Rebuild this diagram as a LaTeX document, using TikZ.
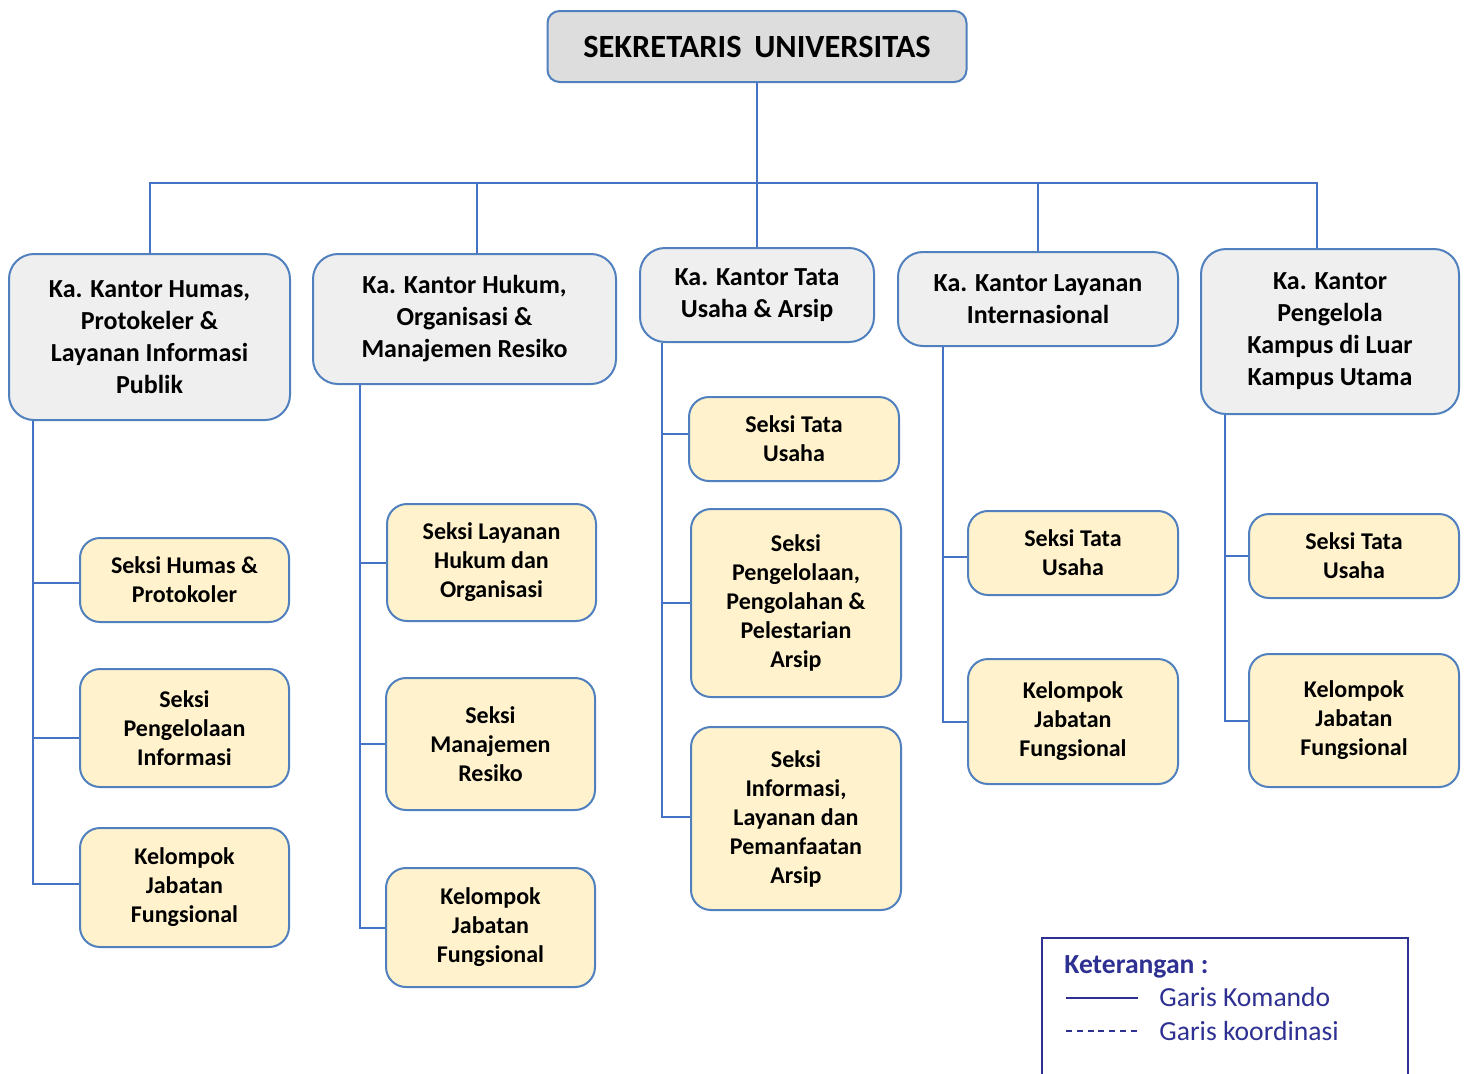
\documentclass[tikz,border=0pt]{standalone}
\usepackage{fontspec}
\setmainfont{Carlito}
\definecolor{garisbiru}{RGB}{68,114,196}
\definecolor{tepibiru}{RGB}{80,128,190}
\definecolor{abuabu}{RGB}{221,221,221}
\definecolor{abumuda}{RGB}{239,239,239}
\definecolor{kuning}{RGB}{255,242,204}
\definecolor{ungu}{RGB}{46,49,146}
\begin{document}
\begin{tikzpicture}[x=0.5pt,y=0.5pt,yscale=-1,
  kotak/.style={draw=tepibiru, line width=1pt, align=center, inner sep=0pt},
  kabox/.style={kotak, fill=abumuda, rounded corners=12.5pt, font=\fontsize{13}{16}\selectfont\bfseries},
  seksibox/.style={kotak, fill=kuning, rounded corners=10pt, minimum width=104.5pt, font=\fontsize{12}{14.5}\selectfont\bfseries},
  garis/.style={draw=garisbiru, line width=1pt}]
\useasboundingbox (0,0) rectangle (1466,1073);

% Sekretaris
\node[kotak, fill=abuabu, rounded corners=6pt, minimum width=209.5pt, minimum height=35.5pt, font=\fontsize{16.2}{19}\selectfont\bfseries] (sekre) at (757,46.5) {SEKRETARIS\, UNIVERSITAS};

% Kepala kantor
\node[kabox, minimum width=140.5pt, minimum height=83pt] (humas) at (149.5,337) {Ka. Kantor Humas,\\Protokeler \&\\Layanan Informasi\\Publik};
\node[kabox, minimum width=151.5pt, minimum height=65pt] (hukum) at (464.5,319) {Ka. Kantor Hukum,\\Organisasi \&\\Manajemen Resiko};
\node[kabox, minimum width=117pt, minimum height=47pt] (tata) at (757,295) {Ka. Kantor Tata\\Usaha \& Arsip};
\node[kabox, minimum width=140pt, minimum height=47pt] (inter) at (1038,299) {Ka. Kantor Layanan\\Internasional};
\node[kabox, minimum width=129pt, minimum height=82.5pt] (kampus) at (1330,331.5) {Ka. Kantor\\Pengelola\\Kampus di Luar\\Kampus Utama};

% Seksi - kolom 1
\node[seksibox, minimum height=42pt] (humasA) at (184.5,580) {Seksi Humas \&\\Protokoler};
\node[seksibox, minimum height=59pt] (humasB) at (184.5,728) {Seksi\\Pengelolaan\\Informasi};
\node[seksibox, minimum height=59.5pt] (humasC) at (184.5,887.5) {Kelompok\\Jabatan\\Fungsional};

% Seksi - kolom 2
\node[seksibox, minimum height=58.5pt] (hukumA) at (491.5,562.5) {Seksi Layanan\\Hukum dan\\Organisasi};
\node[seksibox, minimum height=66pt] (hukumB) at (490.5,744) {Seksi\\Manajemen\\Resiko};
\node[seksibox, minimum height=59.5pt] (hukumC) at (490.5,927.5) {Kelompok\\Jabatan\\Fungsional};

% Seksi - kolom 3
\node[seksibox, minimum width=105pt, minimum height=42pt] (tataA) at (794,439) {Seksi Tata\\Usaha};
\node[seksibox, minimum width=105pt, minimum height=94pt] (tataB) at (796,603) {Seksi\\Pengelolaan,\\Pengolahan \&\\Pelestarian\\Arsip};
\node[seksibox, minimum width=105pt, minimum height=91.5pt] (tataC) at (796,818.5) {Seksi\\Informasi,\\Layanan dan\\Pemanfaatan\\Arsip};

% Seksi - kolom 4
\node[seksibox, minimum width=105pt, minimum height=42pt] (interA) at (1073,553) {Seksi Tata\\Usaha};
\node[seksibox, minimum width=105pt, minimum height=62.5pt] (interB) at (1073,721.5) {Kelompok\\Jabatan\\Fungsional};

% Seksi - kolom 5
\node[seksibox, minimum width=105pt, minimum height=42pt] (kampusA) at (1354,556) {Seksi Tata\\Usaha};
\node[seksibox, minimum width=105pt, minimum height=66.5pt] (kampusB) at (1354,720.5) {Kelompok\\Jabatan\\Fungsional};

% Garis komando atas
\coordinate (bus) at (757,183);
\draw[garis] (sekre.south) -- (tata.north);
\draw[garis] (humas.north) -- (humas.north |- bus) -- ([xshift=-6.5pt]kampus.north |- bus) -- ([xshift=-6.5pt]kampus.north);
\draw[garis] ([xshift=6.25pt]hukum.north) -- ([xshift=6.25pt]hukum.north |- bus);
\draw[garis] (inter.north) -- (inter.north |- bus);

% Garis komando ke seksi
\draw[garis] ([xshift=12.5pt]humas.south west) |- ([yshift=1.5pt]humasA.west);
\draw[garis] ([xshift=12.5pt]humas.south west) |- ([yshift=5pt]humasB.west);
\draw[garis] ([xshift=12.5pt]humas.south west) |- ([yshift=-2pt]humasC.west);
\draw[garis] ([xshift=24pt]hukum.south west) |- (hukumA.west);
\draw[garis] ([xshift=24pt]hukum.south west) |- (hukumB.west);
\draw[garis] ([xshift=24pt]hukum.south west) |- (hukumC.west);
\draw[garis] ([xshift=11.5pt]tata.south west) |- ([yshift=-2.5pt]tataA.west);
\draw[garis] ([xshift=11.5pt]tata.south west) |- (tataB.west);
\draw[garis] ([xshift=11.5pt]tata.south west) |- ([yshift=-1pt]tataC.west);
\draw[garis] ([xshift=23pt]inter.south west) |- ([yshift=2pt]interA.west);
\draw[garis] ([xshift=23pt]inter.south west) |- (interB.west);
\draw[garis] ([xshift=12.5pt]kampus.south west) |- (kampusA.west);
\draw[garis] ([xshift=12.5pt]kampus.south west) |- (kampusB.west);

% Keterangan
\node[draw=ungu, line width=1pt, minimum width=183pt, minimum height=80pt, anchor=north west, inner sep=0pt] (legenda) at (1041,937) {};
\node[anchor=west, text=ungu, font=\fontsize{13.8}{16}\selectfont\bfseries, inner sep=0pt] (ket) at (1064,967) {Keterangan :};
\coordinate (komA) at (1066,998);
\coordinate (komB) at (1138,998);
\coordinate (korA) at (1066,1031);
\coordinate (korB) at (1138,1031);
\draw[ungu, line width=0.75pt] (komA) -- (komB);
\draw[ungu, line width=0.6pt, dash pattern=on 3pt off 2.4pt] (korA) -- (korB);
\node[anchor=west, text=ungu, font=\fontsize{13.8}{16}\selectfont, inner sep=0pt] (komando) at (1159,997) {Garis Komando};
\node[anchor=west, text=ungu, font=\fontsize{13.8}{16}\selectfont, inner sep=0pt] (koordinasi) at (1159,1031) {Garis koordinasi};
\end{tikzpicture}
\end{document}
